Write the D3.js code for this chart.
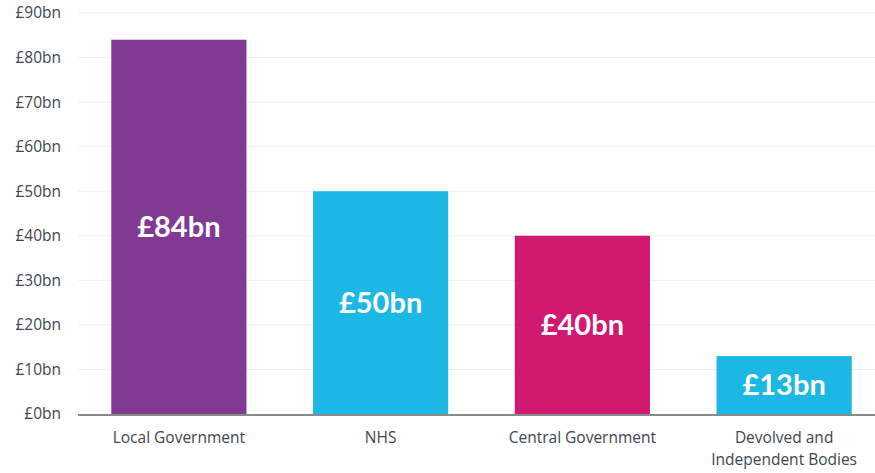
<!DOCTYPE html>
<html>
<head>
<meta charset="utf-8">
<script src="https://cdn.jsdelivr.net/npm/d3@7"></script>
<style>
  html, body { margin: 0; padding: 0; background: #fff; }
  svg { display: block; font-family: "Open Sans", Lato, sans-serif; }
  .tick-label { fill: #3c4650; font-size: 15.5px; }
  .cat-label { fill: #3c4650; font-size: 15.5px; }
  .val-label { fill: #fff; font-size: 29px; font-weight: bold; font-family: Lato, sans-serif; }
</style>
</head>
<body>
<div id="chart"></div>
<script>
(function () {
  var categories = ['Local Government', 'NHS', 'Central Government', 'Devolved and|Independent Bodies'];
  var values = [84, 50, 40, 13];
  var colors = ['#803a94', '#1bb8e5', '#d1196f', '#1bb8e5'];
  var yTicks = [0, 10, 20, 30, 40, 50, 60, 70, 80, 90];

  var width = 875;
  var height = 473;
  var margin = { top: 13, right: 0, bottom: 59, left: 78 };

  var svg = d3.select('#chart')
    .append('svg')
    .attr('width', width)
    .attr('height', height);

  var xScale = d3.scaleBand()
    .domain(categories)
    .range([margin.left, width + 10])
    .paddingInner(0.33)
    .paddingOuter(0.165);

  var yScale = d3.scaleLinear()
    .domain([0, 90])
    .range([height - margin.bottom, margin.top]);

  // gridlines
  svg.append('g')
    .selectAll('line')
    .data(yTicks.slice(1))
    .enter()
    .append('line')
    .attr('x1', margin.left)
    .attr('x2', width)
    .attr('y1', function (d) { return yScale(d); })
    .attr('y2', function (d) { return yScale(d); })
    .attr('stroke', '#edf2f2')
    .attr('stroke-width', 1);

  // y tick labels
  svg.append('g')
    .selectAll('text')
    .data(yTicks)
    .enter()
    .append('text')
    .attr('class', 'tick-label')
    .attr('x', 61)
    .attr('y', function (d) { return yScale(d); })
    .attr('dy', '0.35em')
    .attr('text-anchor', 'end')
    .text(function (d) { return '£' + d + 'bn'; });

  // bars
  svg.append('g')
    .selectAll('rect')
    .data(values)
    .enter()
    .append('rect')
    .attr('x', function (d, i) { return xScale(categories[i]); })
    .attr('y', function (d) { return yScale(d); })
    .attr('width', xScale.bandwidth())
    .attr('height', function (d) { return yScale(0) - yScale(d); })
    .attr('fill', function (d, i) { return colors[i]; });

  // value labels
  svg.append('g')
    .selectAll('text')
    .data(values)
    .enter()
    .append('text')
    .attr('class', 'val-label')
    .attr('x', function (d, i) { return xScale(categories[i]) + xScale.bandwidth() / 2; })
    .attr('y', function (d) { return (yScale(d) + yScale(0)) / 2; })
    .attr('dy', '0.35em')
    .attr('text-anchor', 'middle')
    .text(function (d) { return '£' + d + 'bn'; });

  // x axis line
  svg.append('line')
    .attr('x1', margin.left)
    .attr('x2', width)
    .attr('y1', yScale(0) + 1)
    .attr('y2', yScale(0) + 1)
    .attr('stroke', '#8a8a8a')
    .attr('stroke-width', 2);

  // category labels
  var cats = svg.append('g')
    .selectAll('text')
    .data(categories)
    .enter()
    .append('text')
    .attr('class', 'cat-label')
    .attr('text-anchor', 'middle')
    .attr('x', function (d) { return xScale(d) + xScale.bandwidth() / 2; })
    .attr('y', yScale(0) + 29);

  cats.each(function (d) {
    var el = d3.select(this);
    var x = xScale(d) + xScale.bandwidth() / 2;
    d.split('|').forEach(function (part, i) {
      el.append('tspan')
        .attr('x', x)
        .attr('dy', i === 0 ? 0 : 22)
        .text(part);
    });
  });
})();
</script>
</body>
</html>
